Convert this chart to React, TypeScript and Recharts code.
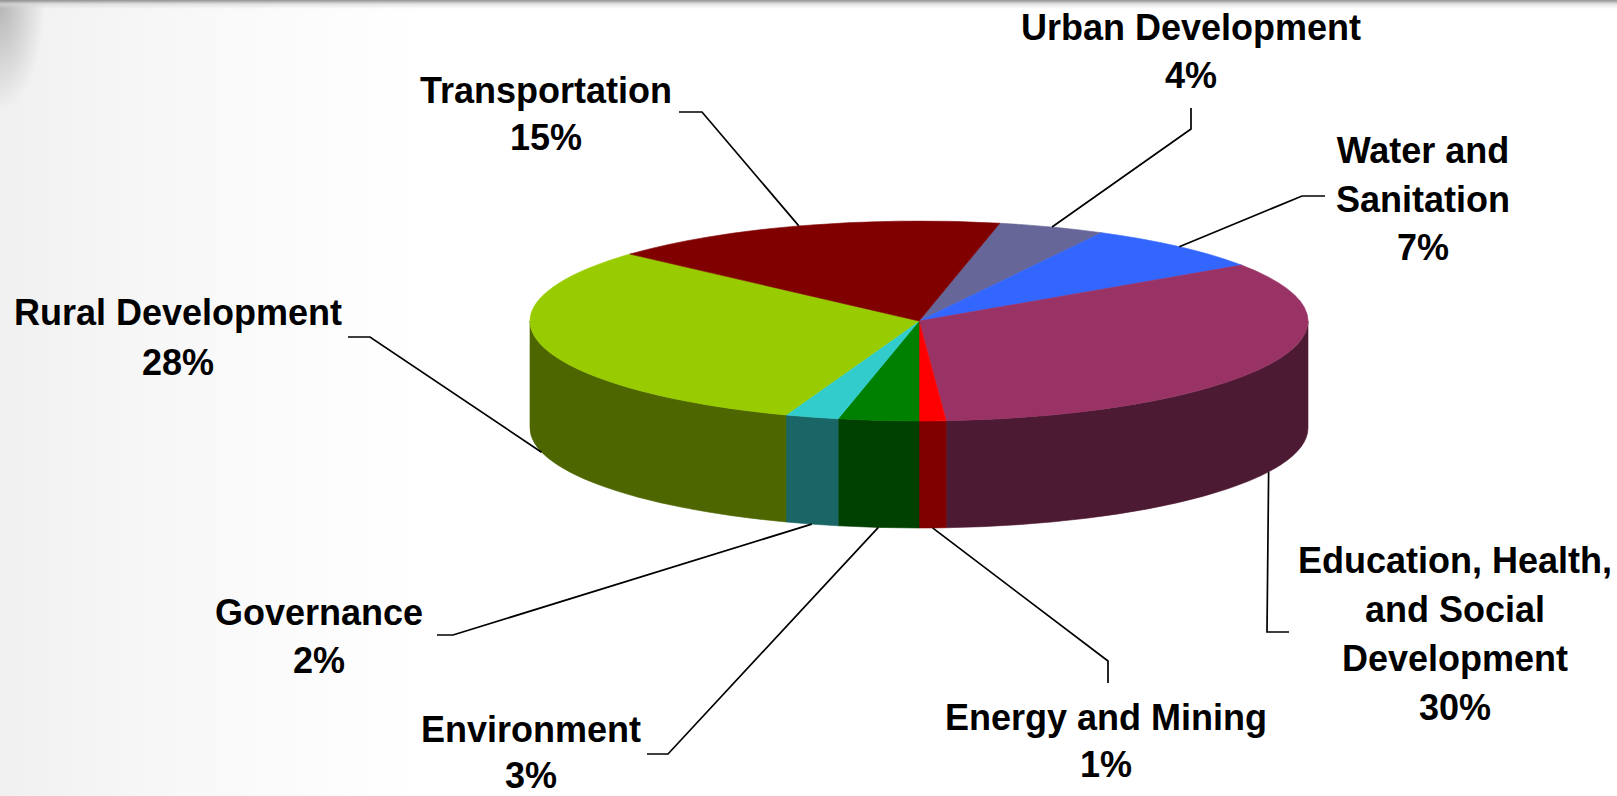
import React from 'react';
import { PieChart, Pie } from 'recharts';

// ---- data (clockwise from the Transportation/Urban boundary) ----
const categories = [
  'Urban Development',
  'Water and Sanitation',
  'Education, Health, and Social Development',
  'Energy and Mining',
  'Environment',
  'Governance',
  'Rural Development',
  'Transportation',
];
const shares = [4, 7, 30, 1, 3, 2, 28, 15];
const labelLines = [
  ['Urban Development'],
  ['Water and', 'Sanitation'],
  ['Education, Health,', 'and Social', 'Development'],
  ['Energy and Mining'],
  ['Environment'],
  ['Governance'],
  ['Rural Development'],
  ['Transportation'],
];
const topColors = ['#666699', '#3366FF', '#993366', '#FF0000', '#008000', '#33CCCC', '#99CC00', '#800000'];
const sideColors = ['#33334d', '#1a3380', '#4d1a33', '#800000', '#004000', '#1a6666', '#4d6600', '#400000'];

// ---- layout (not data) ----
const W = 1617;
const H = 796;
const CX = 919;
const CY = 321;
const RX = 389;
const TILT = 100 / 389;
const DEPTH = 107;
const START = 78;
const FONT = '"Liberation Sans", Arial, Helvetica, sans-serif';

// text centre x, first baseline y, line height, tail (near text) and elbow of the leader line
const labelLayout = [
  { x: 1191, y: 40, lh: 48, tail: [1191, 108], elbow: [1191, 129] },
  { x: 1423, y: 163, lh: 48.5, tail: [1325, 196], elbow: [1302, 196] },
  { x: 1455, y: 573, lh: 49, tail: [1289, 632], elbow: [1267, 632] },
  { x: 1106, y: 730, lh: 47, tail: [1108, 683], elbow: [1108, 661] },
  { x: 531, y: 742, lh: 46, tail: [647, 754], elbow: [668, 754] },
  { x: 319, y: 625, lh: 48, tail: [437, 635], elbow: [453, 635] },
  { x: 178, y: 325, lh: 50, tail: [348, 337], elbow: [370, 337] },
  { x: 546, y: 103, lh: 47, tail: [679, 112], elbow: [702, 112] },
];

const data = categories.map((name, i) => ({ name, value: shares[i] }));

const RAD = Math.PI / 180;
function pt(cx: number, cy: number, rx: number, ry: number, deg: number, dy = 0): [number, number] {
  return [cx + rx * Math.cos(deg * RAD), cy - ry * Math.sin(deg * RAD) + dy];
}
const f = (p: [number, number]) => `${p[0].toFixed(2)},${p[1].toFixed(2)}`;

function renderBody(props: any) {
  const { cx, cy, outerRadius, startAngle, endAngle, index } = props;
  const rx = outerRadius;
  const ry = outerRadius * TILT;
  const a1 = Math.min(startAngle, endAngle);
  const a2 = Math.max(startAngle, endAngle);
  const large = a2 - a1 > 180 ? 1 : 0;
  const top = `M${cx},${cy} L${f(pt(cx, cy, rx, ry, a2))} A${rx},${ry} 0 ${large} 1 ${f(pt(cx, cy, rx, ry, a1))} Z`;
  const walls: React.ReactNode[] = [];
  for (let k = -2; k <= 2; k++) {
    const lo = -180 + 360 * k;
    const hi = 360 * k;
    const b1 = Math.max(a1, lo);
    const b2 = Math.min(a2, hi);
    if (b2 > b1) {
      const d = `M${f(pt(cx, cy, rx, ry, b2))} A${rx},${ry} 0 0 1 ${f(pt(cx, cy, rx, ry, b1))} L${f(pt(cx, cy, rx, ry, b1, DEPTH))} A${rx},${ry} 0 0 0 ${f(pt(cx, cy, rx, ry, b2, DEPTH))} Z`;
      walls.push(
        <path key={`w${k}`} d={d} fill={sideColors[index]} stroke={sideColors[index]} strokeWidth={0.6} />
      );
    }
  }
  return (
    <g key={`body-${index}`}>
      {walls}
      <path d={top} fill={topColors[index]} stroke={topColors[index]} strokeWidth={0.6} strokeLinejoin="round" />
    </g>
  );
}

function renderLabel(props: any) {
  const { cx, cy, outerRadius, startAngle, endAngle, index, value } = props;
  const rx = outerRadius;
  const ry = outerRadius * TILT;
  const mid = (startAngle + endAngle) / 2;
  const front = Math.sin(mid * RAD) < 0;
  const end = pt(cx, cy, rx, ry, mid, front ? DEPTH : 0);
  const lay = labelLayout[index];
  const lines = [...labelLines[index], `${value}%`];
  const pts = `${lay.tail[0]},${lay.tail[1]} ${lay.elbow[0]},${lay.elbow[1]} ${f(end)}`;
  return (
    <g key={`lab-${index}`}>
      <polyline points={pts} fill="none" stroke="#000" strokeWidth={1.7} />
      <text
        x={lay.x}
        y={lay.y}
        textAnchor="middle"
        fontFamily={FONT}
        fontWeight="bold"
        fontSize={36}
        fill="#000"
      >
        {lines.map((l, i) => (
          <tspan key={i} x={lay.x} y={lay.y + i * lay.lh}>
            {l}
          </tspan>
        ))}
      </text>
    </g>
  );
}

export default function App() {
  return (
    <div
      style={{
        width: W,
        height: H,
        position: 'relative',
        overflow: 'hidden',
        background: [
          'linear-gradient(to bottom, rgba(140,140,140,0.95) 0px, rgba(215,215,215,0.7) 4px, rgba(255,255,255,0) 9px)',
          'radial-gradient(ellipse 45px 110px at 0 0, rgba(130,130,130,0.55), rgba(255,255,255,0) 100%)',
          'linear-gradient(to right, #f0f0f0 0px, #f7f7f7 150px, #ffffff 420px)',
        ].join(','),
      }}
    >
      <style>{'body{margin:0;}'}</style>
      <PieChart width={W} height={H} margin={{ top: 0, right: 0, bottom: 0, left: 0 }}>
        <Pie
          data={data}
          dataKey="value"
          nameKey="name"
          cx={CX}
          cy={CY}
          outerRadius={RX}
          startAngle={START}
          endAngle={START - 360}
          fill="transparent"
          stroke="none"
          label={renderBody}
          labelLine={false}
          isAnimationActive={false}
        />
        <Pie
          data={data}
          dataKey="value"
          nameKey="name"
          cx={CX}
          cy={CY}
          outerRadius={RX}
          startAngle={START}
          endAngle={START - 360}
          fill="transparent"
          stroke="none"
          label={renderLabel}
          labelLine={false}
          isAnimationActive={false}
        />
      </PieChart>
    </div>
  );
}
